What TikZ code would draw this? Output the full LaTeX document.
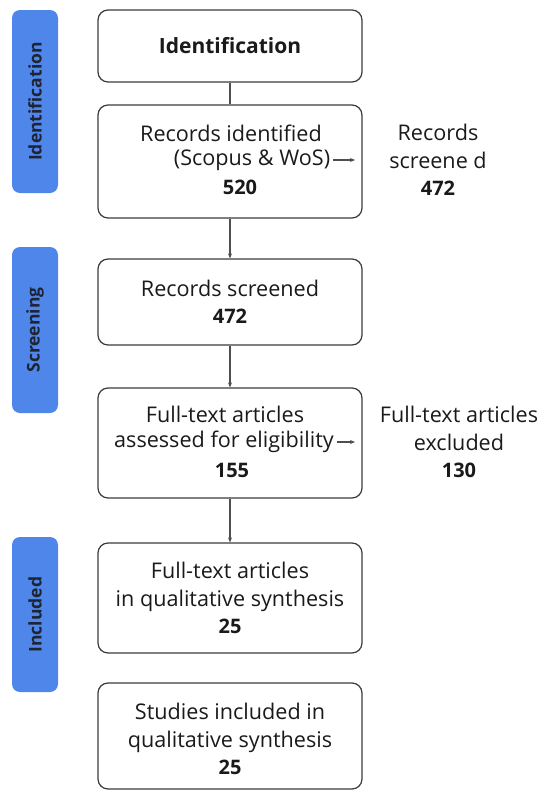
\documentclass[tikz,border=0pt]{standalone}
\usepackage{fontspec}
\setmainfont{Open Sans}
\usetikzlibrary{arrows.meta}
\definecolor{barblue}{HTML}{4F86EA}
\definecolor{bartext}{HTML}{1E2433}
\definecolor{boxline}{HTML}{3A3A3A}
\definecolor{txt}{HTML}{1A1A1A}
\newcommand{\numtxt}[1]{{\fontsize{20}{27.5}\selectfont\bfseries #1}}
\begin{document}
\begin{tikzpicture}[x=1pt,y=-1pt,
  stagebar/.style={fill=barblue, draw=none, rounded corners=8pt, rotate=90,
    minimum height=46pt, inner sep=0pt, text=bartext,
    font=\fontsize{17.5}{20}\selectfont\bfseries},
  stepbox/.style={draw=boxline, line width=1.2pt, rounded corners=10pt,
    minimum width=264pt, inner sep=0pt, align=center, text=txt,
    font=\fontsize{21.6}{27.5}\selectfont},
  linetext/.style={inner sep=0pt, text=txt, font=\fontsize{21.6}{27.5}\selectfont},
  sidetext/.style={inner sep=0pt, align=center, text=txt, font=\fontsize{21.6}{27.5}\selectfont},
  conn/.style={draw=boxline!90, line width=1.1pt},
  arr/.style={conn, -{Stealth[length=5pt,width=4pt]}},
  num/.style={font=\fontsize{20}{27.5}\selectfont\bfseries}
]
\useasboundingbox (0,0) rectangle (543,790);

% stage bars
\node[stagebar, minimum width=183pt] (sid) at (35,101.5) {Identification};
\node[stagebar, minimum width=166pt] (ssc) at (35,330) {Screening};
\node[stagebar, minimum width=155pt] (sin) at (35,614.5) {Included};

% boxes
\node[stepbox, minimum height=72pt] (b1) at (230,46)
  {\fontsize{21}{27.5}\selectfont\bfseries Identification};
\node[stepbox, minimum height=113pt] (b2) at (230,161.5) {};
\node[stepbox, minimum height=86pt] (b3) at (230,302)
  {Records screened\\\numtxt{472}};
\node[stepbox, minimum height=110pt] (b4) at (230,443) {};
\node[stepbox, minimum height=110pt] (b5) at (230,598)
  {Full-text articles\\in qualitative synthesis\\\numtxt{25}};
\node[stepbox, minimum height=106pt] (b6) at (230,736) {};

% box 2 text
\node[linetext] (b2a) at (231,133) {Records identified};
\node[linetext] (b2b) at (252,160) {(Scopus \& WoS)};
\node[linetext, num] (b2c) at (240,187) {520};

% box 4 text
\node[linetext] (b4a) at (225,414) {Full-text articles};
\node[linetext] (b4b) at (224,442) {assessed for eligibility};
\node[linetext, num] (b4c) at (232,470) {155};

% box 6 text
\node[sidetext] (b6t) at (230,739)
  {Studies included in\\qualitative synthesis\\\numtxt{25}};

% side texts
\node[sidetext] (r1) at (438,160)
  {Records\\screene d\\\numtxt{472}};
\node[sidetext] (r2) at (459,442)
  {Full-text articles\\excluded\\\numtxt{130}};

% connectors
\draw[conn] (b1.south) -- (b2.north);
\draw[arr] (b2.south) -- (b3.north);
\draw[arr] (b3.south) -- (b4.north);
\draw[arr] (b4.south) -- (b5.north);

\coordinate (e1) at (355,160);
\coordinate (e2) at (355,442);
\draw[arr] ([xshift=3pt]b2b.east) -- (e1);
\draw[arr] ([xshift=3pt]b4b.east) -- (e2);
\end{tikzpicture}
\end{document}
